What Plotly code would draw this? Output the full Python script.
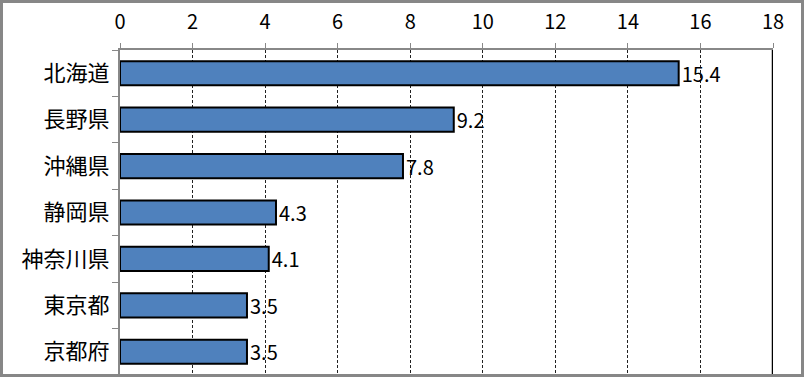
import plotly.graph_objects as go

categories = ["北海道", "長野県", "沖縄県", "静岡県", "神奈川県", "東京都", "京都府"]
values = [15.4, 9.2, 7.8, 4.3, 4.1, 3.5, 3.5]
x_ticks = [0, 2, 4, 6, 8, 10, 12, 14, 16, 18]

W, H = 805, 377
L, R, T, B = 120, 32, 50, 2
pw, ph = W - L - R, H - T - B

font = "Noto Sans CJK JP"

fig = go.Figure(go.Bar(
    x=values, y=categories, orientation="h",
    marker=dict(color="#4F81BD", line=dict(color="#000000", width=2)),
    text=[f"{v:.1f}" for v in values], textposition="outside",
    textfont=dict(family=font, size=20, color="#000000"),
    constraintext="none",
    cliponaxis=False, width=0.52,
))

fig.update_layout(
    width=W, height=H,
    margin=dict(l=L, r=R, t=T, b=B, autoexpand=False),
    paper_bgcolor="white", plot_bgcolor="white",
    showlegend=False,
    font=dict(family=font, size=18, color="#000000"),
    xaxis=dict(
        side="top", range=[0, 18], tickvals=x_ticks, automargin=False,
        showgrid=True, gridcolor="#222222", gridwidth=1, griddash="3px,2px",
        showline=True, linecolor="#888888", linewidth=2,
        ticks="outside", ticklen=5, tickcolor="#888888", tickwidth=1,
        tickfont=dict(family=font, size=20, color="#000000"),
        ticklabelstandoff=6,
        zeroline=False, fixedrange=True,
    ),
    yaxis=dict(
        categoryorder="array", categoryarray=categories, autorange="reversed",
        automargin=False,
        showline=True, linecolor="#888888", linewidth=2,
        ticks="outside", tickson="boundaries", ticklen=6, tickcolor="#888888",
        tickfont=dict(family=font, size=22, color="#000000"),
        showgrid=False, ticklabelstandoff=4,
    ),
    shapes=[
        dict(type="line", xref="x", yref="paper", x0=18, x1=18, y0=0, y1=1,
             line=dict(color="#000000", width=2.5)),
        dict(type="rect", xref="paper", yref="paper",
             x0=(1.5 - L) / pw, x1=(802.5 - L) / pw,
             y0=(H - B - 375.5) / ph, y1=(H - B - 1.5) / ph,
             line=dict(color="#878787", width=3), fillcolor="rgba(0,0,0,0)"),
    ],
)

fig.write_html(
    "out.html",
    config={"displayModeBar": False},
    post_script="document.body.style.margin='0';document.body.style.overflow='hidden';",
)
